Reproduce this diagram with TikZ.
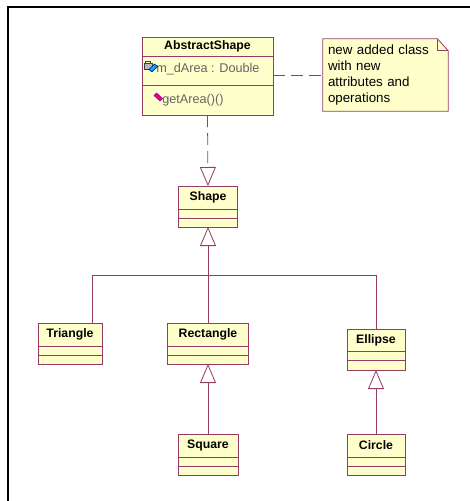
\documentclass[tikz,border=0pt]{standalone}
\usepackage{fontspec}
\setsansfont{Liberation Sans}
\usepackage{tikz}
\usetikzlibrary{positioning,calc,arrows.meta}

\definecolor{roseline}{RGB}{150,60,100}
\definecolor{rosefill}{RGB}{255,255,204}
\definecolor{rosegrey}{RGB}{100,100,100}

\tikzset{
  cls/.style={draw=roseline,fill=rosefill,line width=0.6pt,outer sep=0pt,inner sep=0pt,
    font=\sffamily\bfseries\fontsize{9.2}{11}\selectfont},
  part/.style={draw=roseline,fill=rosefill,line width=0.6pt,outer sep=0pt,inner sep=0pt},
  member/.style={inner sep=0pt,text=rosegrey,font=\sffamily\fontsize{9.5}{11}\selectfont},
  notetext/.style={minimum width=93.75pt,minimum height=54pt,inner xsep=3.75pt,text width=86.25pt,
    align=left,font=\sffamily\fontsize{10}{12}\selectfont},
  link/.style={draw=roseline,line width=0.6pt},
  gen/.style={link,-{Triangle[open,length=14.25pt,width=12pt,fill=white]}},
  real/.style={gen,dash pattern=on 9pt off 4.5pt},
  dep/.style={link,dash pattern=on 9pt off 4.5pt}
}

\begin{document}
\begin{tikzpicture}[x=0.75pt,y=-0.75pt]
\useasboundingbox (0,0) rectangle (470,501);
\draw[line width=1pt] (8,501) -- (8,7) -- (470,7);

% abstract class and note
\node[cls,minimum width=98.25pt,minimum height=14.25pt] (abs) at (207.5,46.5) {AbstractShape};
\node[part,minimum width=98.25pt,minimum height=21.75pt,below=0pt of abs] (abs-a) {};
\node[part,minimum width=98.25pt,minimum height=22.5pt,below=0pt of abs-a] (abs-o) {};
\node[member,anchor=west] (attr) at ($(abs-a.west)+(14,-1)$) {m\_dArea : Double};
\node[member,anchor=west] (oper) at ($(abs-o.west)+(20,0)$) {getArea()()};
\draw[draw=black!75,line width=0.9pt] (145.5,63.5) -- (145.5,61.5) -- (150.5,61.5) -- (150.5,63.5);
\draw[fill=gray!55,draw=black!75,line width=0.4pt] (144,63.5) rectangle (152,69.5);
\draw[fill=cyan,draw=blue!70!black,line width=0.4pt] (149,69.5) -- (154.5,64) -- (157.5,66.5) -- (152,72) -- cycle;
\draw[fill=magenta,draw=violet,line width=0.4pt] (154,95.5) -- (156.5,93) -- (162.5,98.5) -- (160,101) -- cycle;

\node[notetext] (note) at (385.5,75) {};
\draw[link,fill=rosefill] (note.north west) -- ($(note.north east)+(-11,0)$) -- ($(note.north east)+(0,12)$)
  -- (note.south east) -- (note.south west) -- cycle;
\draw[link] ($(note.north east)+(-11,0)$) -- ($(note.north east)+(-11,12)$) -- ($(note.north east)+(0,12)$);
\node[notetext] (note-t) at (note) {new added class\\with new\\attributes and\\operations};
\draw[dep] (note.west -| abs-a.east) -- (note.west);

% classes
\node[cls,minimum width=44.25pt,minimum height=17.25pt] (shape) at (208,197.5) {Shape};
\node[part,minimum width=44.25pt,minimum height=6.75pt,below=0pt of shape] (shape-a) {};
\node[part,minimum width=44.25pt,minimum height=6.75pt,below=0pt of shape-a] (shape-o) {};

\node[cls,minimum width=48pt,minimum height=17.25pt] (tri) at (70,334.5) {Triangle};
\node[part,minimum width=48pt,minimum height=6.75pt,below=0pt of tri] (tri-a) {};
\node[part,minimum width=48pt,minimum height=6.75pt,below=0pt of tri-a] (tri-o) {};

\node[cls,minimum width=60.75pt,minimum height=17.25pt] (rect) at (208,334.5) {Rectangle};
\node[part,minimum width=60.75pt,minimum height=6.75pt,below=0pt of rect] (rect-a) {};
\node[part,minimum width=60.75pt,minimum height=6.75pt,below=0pt of rect-a] (rect-o) {};

\node[cls,minimum width=43.5pt,minimum height=16.5pt] (ell) at (376,340) {Ellipse};
\node[part,minimum width=43.5pt,minimum height=6.75pt,below=0pt of ell] (ell-a) {};
\node[part,minimum width=43.5pt,minimum height=7.5pt,below=0pt of ell-a] (ell-o) {};

\node[cls,minimum width=45pt,minimum height=17.25pt] (sq) at (208,445.5) {Square};
\node[part,minimum width=45pt,minimum height=6.75pt,below=0pt of sq] (sq-a) {};
\node[part,minimum width=45pt,minimum height=6.75pt,below=0pt of sq-a] (sq-o) {};

\node[cls,minimum width=43.5pt,minimum height=17.25pt] (cir) at (376,445.5) {Circle};
\node[part,minimum width=43.5pt,minimum height=6.75pt,below=0pt of cir] (cir-a) {};
\node[part,minimum width=43.5pt,minimum height=6.75pt,below=0pt of cir-a] (cir-o) {};

% connectors
\coordinate (bus) at (208,275);
\draw[real] (abs-o.south) -- (shape.north);
\draw[gen] (bus) -- (shape-o.south);
\draw[link] ($(tri.north)+(22,0)$) |- (bus);
\draw[link] (rect.north) -- (bus);
\draw[link] (ell.north) |- (bus);
\draw[gen] (sq.north) -- (rect-o.south);
\draw[gen] (cir.north) -- (ell-o.south);
\end{tikzpicture}
\end{document}
